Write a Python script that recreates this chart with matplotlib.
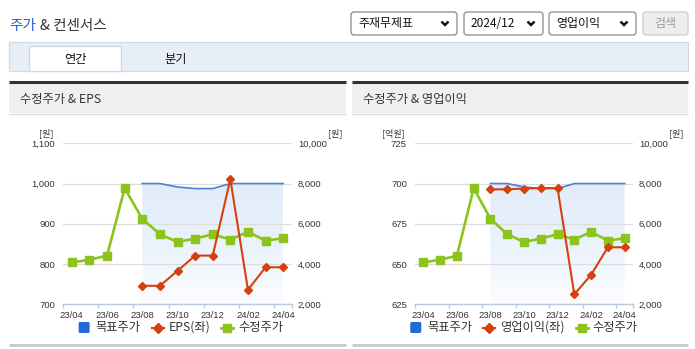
import matplotlib
matplotlib.use('Agg')
import matplotlib.pyplot as plt
import numpy as np
from matplotlib.patches import Rectangle, FancyBboxPatch
from matplotlib.colors import LinearSegmentedColormap

# ---------------- data ----------------
months = ['23/04', '23/05', '23/06', '23/07', '23/08', '23/09', '23/10',
          '23/11', '23/12', '24/01', '24/02', '24/03', '24/04']
tick_labels = ['23/04', '23/06', '23/08', '23/10', '23/12', '24/02', '24/04']
adj_price = [4080, 4215, 4415, 7765, 6250, 5480, 5100, 5265, 5480, 5215, 5600, 5165, 5280]
target_price = [np.nan, np.nan, np.nan, np.nan, 8000, 8000, 7830, 7750, 7750, 8000, 8000, 8000, 8000]
eps = [np.nan, np.nan, np.nan, np.nan, 746, 746, 783, 821, 821, 1011, 736, 792, 792]
op_income = [np.nan, np.nan, np.nan, np.nan, 696.4, 696.4, 696.9, 697.2, 697.2, 631.2, 643.3, 660.4, 660.4]

eps_ticks = [700, 800, 900, 1000, 1100]
op_ticks = [625, 650, 675, 700, 725]
price_ticks = [2000, 4000, 6000, 8000, 10000]

# ---------------- style ----------------
W, H = 695, 349
KR = ['Noto Sans CJK KR', 'DejaVu Sans']
NUM = ['Liberation Sans Narrow', 'Liberation Sans', 'DejaVu Sans']
C_BLUE = '#4a80d8'
C_BLUE_KEY = '#2268d8'
C_RED = '#d5410e'
C_GREEN = '#8cc31c'
C_TXT = '#333333'
C_AXIS = '#b9c9da'

fig = plt.figure(figsize=(W / 100, H / 100), dpi=100)
fig.patch.set_facecolor('white')
renderer = fig.canvas.get_renderer()

bg = fig.add_axes([0, 0, 1, 1], zorder=0)
bg.set_xlim(0, W)
bg.set_ylim(H, 0)
bg.axis('off')


def px_rect(x0, x1, ytop, ybot):
    return [x0 / W, 1 - ybot / H, (x1 - x0) / W, (ybot - ytop) / H]


# ---------------- header ----------------
bg.text(9, 26, '주가', family=KR, fontsize=10.5, color='#2a5fd6', va='center', ha='left')
bg.text(40, 26, '& 컨센서스', family=KR, fontsize=10.5, color=C_TXT, va='center', ha='left')

dropdowns = [(351, 457, '주재무제표'), (464, 543, '2024/12'), (549, 636, '영업이익')]
for x0, x1, label in dropdowns:
    bg.add_patch(FancyBboxPatch((x0, 12), x1 - x0, 23, boxstyle='round,pad=0,rounding_size=3',
                                fc='white', ec='#8a8a8a', lw=0.9))
    bg.text(x0 + 7, 23.5, label, family=KR, fontsize=8.6, color='#111111', va='center', ha='left')
    cx = x1 - 12
    bg.plot([cx - 3.5, cx, cx + 3.5], [21.5, 25, 21.5], color='#111111', lw=1.8,
            solid_capstyle='butt', solid_joinstyle='miter')
bg.add_patch(FancyBboxPatch((643, 12), 45, 23, boxstyle='round,pad=0,rounding_size=3',
                            fc='#eeeeee', ec='#cccccc', lw=0.9))
bg.text(665.5, 23.5, '검색', family=KR, fontsize=8.6, color='#9a9a9a', va='center', ha='center')

# tab bar
bg.add_patch(Rectangle((9, 42), 679, 29, fc='#e8eef8', ec='#d3dae5', lw=0.9))
bg.add_patch(Rectangle((29, 46), 92, 25, fc='white', ec='#cfd6e0', lw=0.9))
bg.text(75, 59, '연간', family=KR, fontsize=8.8, color='#111111', va='center', ha='center')
bg.text(176, 59, '분기', family=KR, fontsize=8.8, color='#111111', va='center', ha='center')

# panels
panels = [(9, 346, '수정주가 & EPS'), (352, 688, '수정주가 & 영업이익')]
for x0, x1, title in panels:
    bg.add_patch(Rectangle((x0, 83), x1 - x0, 30, fc='#f0f0f0', ec='none'))
    bg.plot([x0, x1], [81.5, 81.5], color='#333333', lw=2.2, solid_capstyle='butt')
    bg.plot([x0, x1], [113.5, 113.5], color='#dddddd', lw=0.9)
    bg.text(x0 + 11, 99, title, family=KR, fontsize=8.8, color=C_TXT, va='center', ha='left')
    bg.plot([x0, x1], [345, 345], color='#c8c8c8', lw=2.0, solid_capstyle='butt')


def text_width(s, size):
    t = fig.text(0, 0, s, family=KR, fontsize=size)
    w = t.get_window_extent(renderer).width
    t.remove()
    return w


# ---------------- charts ----------------
def draw_chart(x0, x1, left_vals, left_ticks, left_fmt, left_unit, red_label, legend_center):
    rect = px_rect(x0, x1, 143.3, 304.3)
    axR = fig.add_axes(rect, zorder=2)
    axL = fig.add_axes(rect, zorder=3)
    axL.patch.set_visible(False)
    xs = np.arange(len(months))

    tp = np.array(target_price, dtype=float)
    m = ~np.isnan(tp)
    poly = axR.fill_between(xs[m], tp[m], price_ticks[0], color='none', lw=0)
    grad = np.linspace(0, 1, 256).reshape(-1, 1)
    cmap = LinearSegmentedColormap.from_list('g', ['#fcfdff', '#eaf2fc', '#e2edfa'])
    im = axR.imshow(grad, extent=[xs[m][0], xs[m][-1], price_ticks[0], np.nanmax(tp)],
                    origin='lower', cmap=cmap, aspect='auto', zorder=0.5)
    im.set_clip_path(poly.get_paths()[0], transform=axR.transData)

    axR.plot(xs, tp, color=C_BLUE, lw=1.2, zorder=2)
    axR.plot(xs, adj_price, color=C_GREEN, lw=1.9, marker='s', ms=5.6, mec=C_GREEN, mfc=C_GREEN, zorder=3)
    axL.plot(xs, left_vals, color=C_RED, lw=1.5, marker='D', ms=4.2, mec=C_RED, mfc=C_RED, zorder=4)

    for a in (axL, axR):
        a.set_xlim(-0.5, len(months) - 0.5)
        for s in a.spines.values():
            s.set_visible(False)
    axR.set_ylim(price_ticks[0], price_ticks[-1])
    axL.set_ylim(left_ticks[0], left_ticks[-1])

    axR.set_yticks(price_ticks)
    axR.set_yticklabels([f'{v:,}' for v in price_ticks])
    axR.yaxis.tick_right()
    axR.tick_params(axis='y', length=0, pad=4.3, labelsize=6.8, labelcolor=C_TXT)
    axR.grid(axis='y', color='#dddddd', lw=0.9)
    axR.set_axisbelow(True)
    axR.spines['bottom'].set_visible(True)
    axR.spines['bottom'].set_color(C_AXIS)
    axR.spines['bottom'].set_linewidth(1.0)

    axL.set_yticks(left_ticks)
    axL.set_yticklabels([left_fmt(v) for v in left_ticks])
    axL.tick_params(axis='y', length=0, pad=5.8, labelsize=6.8, labelcolor=C_TXT)
    axL.set_xticks([])

    label_pos = [months.index(t) for t in tick_labels]
    axR.set_xticks(label_pos)
    axR.set_xticklabels(tick_labels)
    axR.set_xticks(np.arange(-0.5, len(months), 2).tolist() + [len(months) - 0.5], minor=True)
    axR.tick_params(axis='x', which='major', length=0, pad=4.6, labelsize=6.8, labelcolor=C_TXT)
    axR.tick_params(axis='x', which='minor', length=3, width=1.0, color=C_AXIS)
    for lab in axR.get_xticklabels() + axR.get_yticklabels() + axL.get_yticklabels():
        lab.set_family(NUM)

    # unit labels
    bg.text(x0 - 10, 133, left_unit, family=KR, fontsize=6.5, color=C_TXT, ha='right', va='center')
    bg.text(x1 + 36, 133, '[원]', family=KR, fontsize=6.5, color=C_TXT, ha='left', va='center')

    # legend (laid out from measured text widths)
    fs = 8.8
    key_w, gap_key, gap_item = 12, 5, 11
    labels = ['목표주가', red_label, '수정주가']
    widths = [text_width(s, fs) for s in labels]
    total = 3 * (key_w + gap_key) + sum(widths) + 2 * gap_item
    x = legend_center - total / 2
    y = 327.5
    for i, (lab, w) in enumerate(zip(labels, widths)):
        cx = x + key_w / 2
        if i == 0:
            bg.add_patch(FancyBboxPatch((x, y - 5.5), 11, 11, boxstyle='round,pad=0,rounding_size=1.5',
                                        fc=C_BLUE_KEY, ec='none'))
        elif i == 1:
            bg.plot([x, x + key_w], [y, y], color=C_RED, lw=1.5)
            bg.plot([cx], [y], marker='D', ms=4.6, color=C_RED)
        else:
            bg.plot([x, x + key_w], [y, y], color=C_GREEN, lw=2.0)
            bg.plot([cx], [y], marker='s', ms=6.0, color=C_GREEN)
        x += key_w + gap_key
        bg.text(x, y, lab, family=KR, fontsize=fs, color=C_TXT, ha='left', va='center')
        x += w + gap_item


draw_chart(63, 292, eps, eps_ticks, lambda v: f'{v:,}', '[원]', 'EPS(좌)', 181)
draw_chart(415, 633, op_income, op_ticks, lambda v: f'{v:,}', '[억원]', '영업이익(좌)', 524)

fig.savefig('out.png', dpi=100, facecolor='white')
